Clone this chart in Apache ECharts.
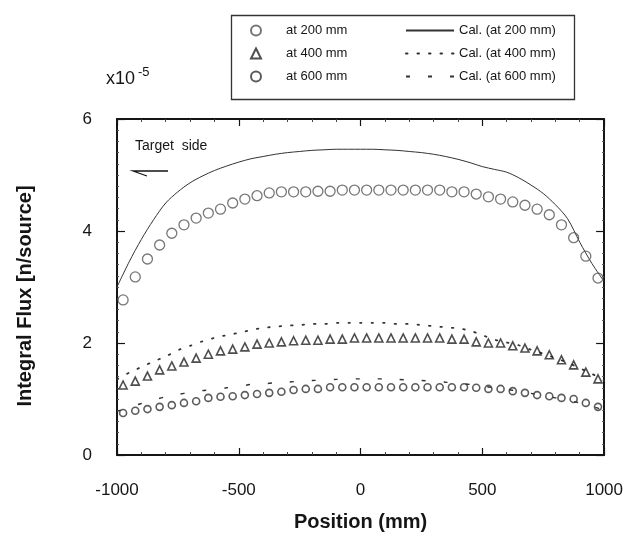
<!DOCTYPE html>
<html>
<head>
<meta charset="utf-8">
<script src="https://cdn.jsdelivr.net/npm/echarts@6/dist/echarts.min.js"></script>
<style>
  html, body { margin: 0; padding: 0; background: #fff; }
  #chart { width: 626px; height: 540px; }
</style>
</head>
<body>
<div id="chart"></div>
<script>
// Measured positions (mm) of the detectors and the calculation grid
const positions = [-975, -925, -875, -825, -775, -725, -675, -625, -575, -525,
  -475, -425, -375, -325, -275, -225, -175, -125, -75, -25,
  25, 75, 125, 175, 225, 275, 325, 375, 425, 475,
  525, 575, 625, 675, 725, 775, 825, 875, 925, 975];
const calPositions = [-1000, -950, -900, -850, -800, -750, -700, -650, -600, -550,
  -500, -450, -400, -350, -300, -250, -200, -150, -100, -50,
  0, 50, 100, 150, 200, 250, 300, 350, 400, 450,
  500, 550, 600, 650, 700, 750, 800, 850, 900, 950, 1000];

// Measured integral flux (x1e-5 n/source)
const flux200 = [2.77, 3.18, 3.50, 3.75, 3.96, 4.11, 4.23, 4.32, 4.39, 4.50,
  4.57, 4.63, 4.68, 4.70, 4.70, 4.70, 4.71, 4.71, 4.73, 4.73,
  4.73, 4.73, 4.73, 4.73, 4.73, 4.73, 4.73, 4.70, 4.70, 4.66,
  4.61, 4.57, 4.52, 4.46, 4.39, 4.29, 4.11, 3.88, 3.55, 3.16];
const flux400 = [1.25, 1.32, 1.41, 1.52, 1.59, 1.66, 1.73, 1.80, 1.86, 1.89,
  1.93, 1.98, 2.00, 2.02, 2.04, 2.05, 2.05, 2.07, 2.07, 2.09,
  2.09, 2.09, 2.09, 2.09, 2.09, 2.09, 2.09, 2.07, 2.07, 2.02,
  2.00, 2.00, 1.95, 1.91, 1.86, 1.79, 1.70, 1.61, 1.48, 1.36];
const flux600 = [0.75, 0.79, 0.82, 0.86, 0.89, 0.93, 0.96, 1.02, 1.04, 1.05,
  1.07, 1.09, 1.11, 1.13, 1.16, 1.18, 1.18, 1.21, 1.21, 1.21,
  1.21, 1.21, 1.21, 1.21, 1.21, 1.21, 1.21, 1.21, 1.21, 1.20,
  1.18, 1.18, 1.14, 1.11, 1.07, 1.05, 1.02, 1.00, 0.93, 0.86];

// Calculated integral flux (x1e-5 n/source)
const cal200 = [3.00, 3.45, 3.85, 4.20, 4.50, 4.70, 4.86, 4.98, 5.08, 5.16,
  5.23, 5.29, 5.33, 5.37, 5.40, 5.42, 5.44, 5.45, 5.46, 5.46,
  5.46, 5.46, 5.45, 5.44, 5.42, 5.40, 5.37, 5.33, 5.28, 5.22,
  5.15, 5.10, 5.05, 4.95, 4.82, 4.67, 4.47, 4.22, 3.80, 3.42, 3.10];
const cal400 = [1.35, 1.47, 1.57, 1.67, 1.76, 1.87, 1.95, 2.03, 2.09, 2.14,
  2.18, 2.23, 2.27, 2.29, 2.31, 2.32, 2.34, 2.34, 2.36, 2.36,
  2.36, 2.36, 2.36, 2.34, 2.34, 2.32, 2.30, 2.28, 2.26, 2.22,
  2.14, 2.06, 2.01, 1.96, 1.88, 1.81, 1.73, 1.65, 1.55, 1.45, 1.33];
const cal600 = [0.78, 0.85, 0.92, 0.98, 1.04, 1.08, 1.12, 1.15, 1.17, 1.20,
  1.22, 1.26, 1.27, 1.29, 1.30, 1.32, 1.33, 1.34, 1.35, 1.36,
  1.36, 1.36, 1.36, 1.35, 1.34, 1.33, 1.32, 1.30, 1.28, 1.26,
  1.23, 1.20, 1.17, 1.14, 1.10, 1.06, 1.02, 0.98, 0.93, 0.87, 0.80];

const measuredNames = ['at 200 mm', 'at 400 mm', 'at 600 mm'];
const calNames = ['Cal. (at 200 mm)', 'Cal. (at 400 mm)', 'Cal. (at 600 mm)'];
const xTicks = { min: -1000, max: 1000, step: 500 };
const yTicks = { min: 0, max: 6, step: 2 };

const pairs = (xs, ys) => xs.map((x, i) => [x, ys[i]]);

const FONT = "'Liberation Sans', Arial, Helvetica, sans-serif";
const INK = '#151515';
const CLEAR = 'rgba(255,255,255,0)';

function makeXAxis(pos, showLabels) {
  return {
    type: 'value', position: pos,
    min: xTicks.min, max: xTicks.max, interval: xTicks.step,
    axisLine: { show: true, onZero: false, lineStyle: { color: INK, width: 2 } },
    axisTick: { show: true, inside: true, length: 7, lineStyle: { color: INK, width: 1.2 } },
    minorTick: { show: true, splitNumber: 5, length: 3, lineStyle: { color: '#444', width: 1 } },
    splitLine: { show: false },
    axisLabel: {
      show: showLabels, margin: 27, fontSize: 17, color: INK, fontFamily: FONT,
      formatter: v => String(v)
    },
    name: showLabels ? 'Position (mm)' : '',
    nameLocation: 'middle', nameGap: 57,
    nameTextStyle: { fontSize: 20, fontWeight: 'bold', color: INK, fontFamily: FONT }
  };
}

function makeYAxis(pos, showLabels) {
  return {
    type: 'value', position: pos,
    min: yTicks.min, max: yTicks.max, interval: yTicks.step,
    axisLine: { show: true, onZero: false, lineStyle: { color: INK, width: 2 } },
    axisTick: { show: true, inside: true, length: 8, lineStyle: { color: INK, width: 1.2 } },
    minorTick: { show: true, splitNumber: 10, length: 2, lineStyle: { color: '#555', width: 1 } },
    splitLine: { show: false },
    axisLabel: { show: showLabels, margin: 25, fontSize: 17, color: INK, fontFamily: FONT },
    name: showLabels ? 'Integral Flux [n/source]' : '',
    nameLocation: 'middle', nameGap: 82,
    nameTextStyle: { fontSize: 20, fontWeight: 'bold', color: INK, fontFamily: FONT, padding: [0, 18, 0, 0] }
  };
}

const chart = echarts.init(document.getElementById('chart'), null, { renderer: 'canvas' });

chart.setOption({
  animation: false,
  backgroundColor: '#fff',
  grid: { left: 117, right: 21, top: 119, bottom: 85, containLabel: false },
  xAxis: [makeXAxis('bottom', true), makeXAxis('top', false)],
  yAxis: [makeYAxis('left', true), makeYAxis('right', false)],
  legend: [
    {
      data: measuredNames, orient: 'vertical', left: 250, top: 24, padding: 0,
      itemWidth: 10, itemHeight: 10, itemGap: 10, selectedMode: false,
      symbolKeepAspect: true,
      textStyle: { fontSize: 13, color: INK, fontFamily: FONT, padding: [0, 0, 0, 20] }
    },
    {
      data: calNames, orient: 'vertical', left: 405, top: 24, padding: 0,
      itemWidth: 48, itemHeight: 10, itemGap: 10, selectedMode: false,
      itemStyle: { color: CLEAR, borderWidth: 0, opacity: 0 },
      textStyle: { fontSize: 13, color: INK, fontFamily: FONT }
    }
  ],
  series: [
    {
      name: calNames[0], type: 'line', data: pairs(calPositions, cal200),
      symbol: 'none', smooth: 0.3, z: 2,
      itemStyle: { color: CLEAR },
      lineStyle: { color: '#333', width: 1 }
    },
    {
      name: calNames[1], type: 'line', data: pairs(calPositions, cal400),
      symbol: 'none', smooth: 0.3, z: 2,
      itemStyle: { color: CLEAR },
      lineStyle: { color: '#333', width: 1.8, type: [1.5, 10], cap: 'round' }
    },
    {
      name: calNames[2], type: 'line', data: pairs(calPositions, cal600),
      symbol: 'none', smooth: 0.3, z: 2,
      itemStyle: { color: CLEAR },
      lineStyle: { color: '#333', width: 1.4, type: [4, 18] }
    },
    {
      name: measuredNames[0], type: 'scatter', data: pairs(positions, flux200),
      symbol: 'circle', symbolSize: 10, z: 3,
      itemStyle: { color: CLEAR, borderColor: '#555', borderWidth: 1.3 }
    },
    {
      name: measuredNames[1], type: 'scatter', data: pairs(positions, flux400),
      symbol: 'triangle', symbolSize: 8, z: 3,
      itemStyle: { color: CLEAR, borderColor: '#222', borderWidth: 1.6 }
    },
    {
      name: measuredNames[2], type: 'scatter', data: pairs(positions, flux600),
      symbol: 'circle', symbolSize: 7, z: 3,
      itemStyle: { color: CLEAR, borderColor: '#333', borderWidth: 1.6 }
    }
  ],
  graphic: [
    // legend frame
    {
      type: 'rect', left: 229, top: 13, z: 0,
      shape: { width: 343, height: 84 },
      style: { fill: 'none', stroke: '#333', lineWidth: 1.3 }
    },
    // exponent of the y scale
    {
      type: 'text', left: 106, top: 66,
      style: {
        text: '{b|x10}{s|-5}', fontFamily: FONT,
        rich: {
          b: { fontSize: 18, fill: INK, fontFamily: FONT, verticalAlign: 'bottom', lineHeight: 22 },
          s: { fontSize: 13, fill: INK, fontFamily: FONT, verticalAlign: 'top', lineHeight: 22, padding: [0, 0, 8, 3] }
        }
      }
    },
    // annotation inside the plot
    {
      type: 'text', left: 135, top: 139,
      style: { text: 'Target  side', fontSize: 14, fill: INK, fontFamily: FONT }
    },
    {
      type: 'polyline', z: 5,
      shape: { points: [[168, 171], [133, 171], [147, 176]] },
      style: { stroke: INK, lineWidth: 1.3, fill: 'none' }
    }
  ]
});
</script>
</body>
</html>
